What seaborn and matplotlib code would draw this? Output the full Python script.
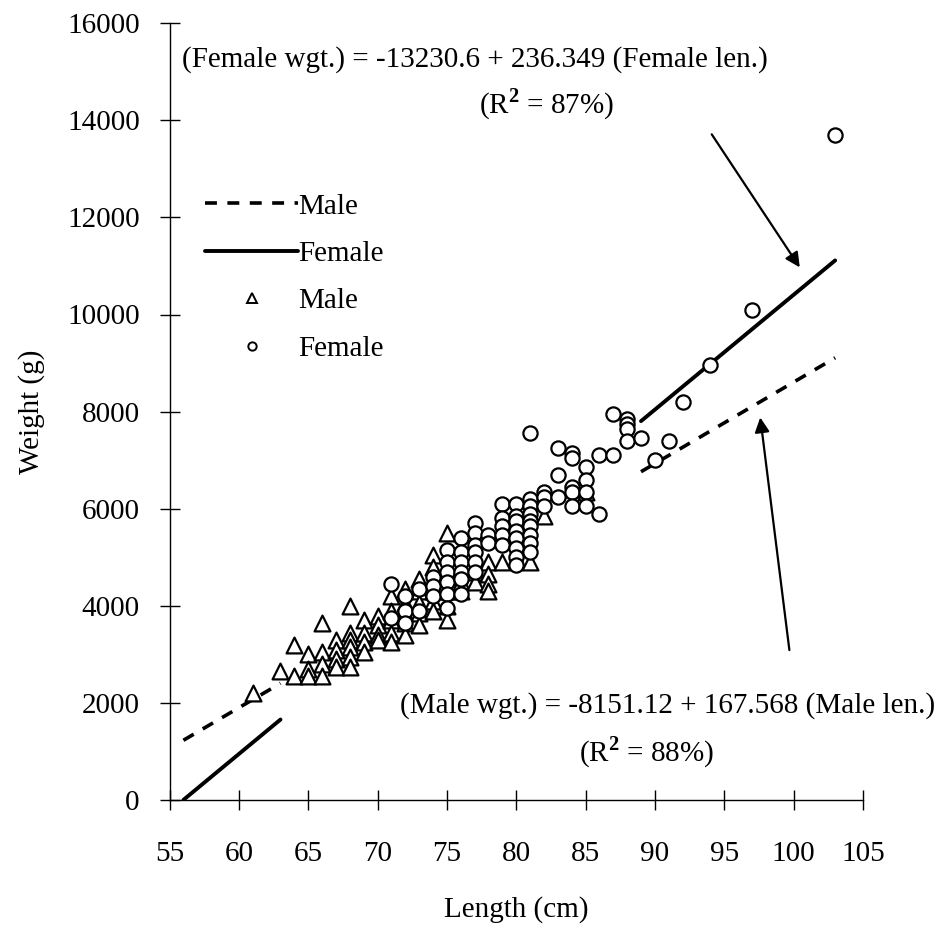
import numpy as np
import pandas as pd
import matplotlib
matplotlib.use("Agg")
import matplotlib.pyplot as plt
import seaborn as sns
from matplotlib.lines import Line2D

# ---------------- data ----------------
male_len = [61, 63, 64, 64, 65, 65, 65, 66, 66, 66, 66, 67, 67, 67, 67,
            68, 68, 68, 68, 68, 68, 69, 69, 69, 69, 70, 70, 70, 70,
            71, 71, 71, 71, 71, 72, 72, 72, 72, 72, 73, 73, 73, 73, 73,
            74, 74, 74, 74, 74, 74, 75, 75, 75, 75, 76, 76, 77, 77,
            78, 78, 78, 78, 79, 81, 82, 84, 85]
male_wgt = [2200, 2650, 3200, 2550, 3000, 2700, 2550, 3650, 3050, 2800, 2550,
            3300, 3100, 2900, 2750, 4000, 3450, 3300, 3150, 2950, 2750,
            3700, 3450, 3250, 3050, 3800, 3600, 3400, 3300,
            4200, 3900, 3700, 3450, 3250, 4350, 4050, 3850, 3650, 3400,
            4550, 4300, 4050, 3850, 3600, 5050, 4800, 4550, 4300, 4100, 3900,
            5500, 4300, 4000, 3700, 4500, 4300, 4700, 4500,
            4900, 4650, 4450, 4300, 4900, 4900, 5850, 6400, 6350]

female_len = [71, 71, 72, 72, 72, 73, 73, 74, 74, 74,
              75, 75, 75, 75, 75, 75, 76, 76, 76, 76, 76, 76,
              77, 77, 77, 77, 77, 77, 78, 78, 79, 79, 79, 79, 79,
              80, 80, 80, 80, 80, 80, 80, 80,
              81, 81, 81, 81, 81, 81, 81, 81, 81,
              82, 82, 82, 83, 83, 83, 84, 84, 84, 84, 84,
              85, 85, 85, 85, 86, 86, 87, 87, 88, 88, 88, 88,
              89, 90, 91, 92, 94, 97, 103]
female_wgt = [4450, 3750, 4200, 3900, 3650, 4350, 3900, 4600, 4400, 4200,
              5150, 4900, 4700, 4500, 4250, 3950, 5400, 5100, 4900, 4700, 4550, 4250,
              5700, 5500, 5250, 5100, 4900, 4700, 5450, 5300,
              6100, 5800, 5650, 5450, 5250,
              6100, 5850, 5750, 5550, 5400, 5200, 5000, 4850,
              7550, 6200, 6050, 5900, 5750, 5650, 5450, 5300, 5100,
              6350, 6250, 6050, 7250, 6700, 6250, 7150, 7050, 6450, 6350, 6050,
              6850, 6600, 6350, 6050, 7100, 5900, 7950, 7100, 7850, 7750, 7650, 7400,
              7450, 7000, 7400, 8200, 8950, 10100, 13700]

# regression fits (from the chart annotations)
male_fit = (-8151.12, 167.568)
female_fit = (-13230.6, 236.349)
fit_segments = [(56, 63), (89, 103)]   # x ranges where the fitted lines are drawn

x_ticks = [55, 60, 65, 70, 75, 80, 85, 90, 95, 100, 105]
y_ticks = [0, 2000, 4000, 6000, 8000, 10000, 12000, 14000, 16000]

# ---------------- figure ----------------
sns.set_theme(style="white", rc={"text.color": "black", "axes.labelcolor": "black",
                                 "xtick.color": "black", "ytick.color": "black",
                                 "xtick.bottom": True, "ytick.left": True})
plt.rcParams['font.family'] = ['Liberation Serif', 'DejaVu Serif']
plt.rcParams['mathtext.fontset'] = 'custom'
plt.rcParams['mathtext.rm'] = 'Liberation Serif'
plt.rcParams['mathtext.bf'] = 'Liberation Serif:bold'

fig = plt.figure(figsize=(9.42, 9.25), dpi=100)
ax = fig.add_axes([0.180, 0.135, 0.736, 0.840])

FS = 21

def fit_df(fit):
    rows = []
    for i, (a, b) in enumerate(fit_segments):
        xs = np.linspace(a, b, 30)
        for x in xs:
            rows.append({"x": x, "y": fit[0] + fit[1] * x, "seg": i})
    return pd.DataFrame(rows)

sns.lineplot(data=fit_df(male_fit), x="x", y="y", units="seg", estimator=None,
             color="black", lw=2.6, linestyle=(0, (3.3, 2.9)), ax=ax)
sns.lineplot(data=fit_df(female_fit), x="x", y="y", units="seg", estimator=None,
             color="black", lw=2.8, ax=ax)

mdf = pd.DataFrame({"len": male_len, "wgt": male_wgt})
fdf = pd.DataFrame({"len": female_len, "wgt": female_wgt})
sns.scatterplot(data=mdf, x="len", y="wgt", marker="^", s=130,
                facecolor="white", edgecolor="black", linewidth=1.6, ax=ax, zorder=3)
sns.scatterplot(data=fdf, x="len", y="wgt", marker="o", s=105,
                facecolor="white", edgecolor="black", linewidth=1.6, ax=ax, zorder=3)

ax.set_xlim(55, 105)
ax.set_ylim(0, 16000)
ax.set_xticks(x_ticks)
ax.set_yticks(y_ticks)
ax.set_xticklabels([str(t) for t in x_ticks], fontsize=FS)
ax.set_yticklabels([str(t) for t in y_ticks], fontsize=FS)
ax.tick_params(axis="both", which="major", direction="inout", length=15, width=1,
               color="black", bottom=True, left=True)
ax.tick_params(axis="x", pad=22)
ax.tick_params(axis="y", pad=14)
for side in ["top", "right"]:
    ax.spines[side].set_visible(False)
for side in ["left", "bottom"]:
    ax.spines[side].set_color("black")
    ax.spines[side].set_linewidth(1)

ax.set_xlabel("Length (cm)", fontsize=FS, labelpad=21)
ax.set_ylabel("Weight (g)", fontsize=FS, labelpad=16)

# legend
handles = [
    Line2D([], [], color="black", lw=2.6, linestyle=(0, (3.3, 2.9))),
    Line2D([], [], color="black", lw=2.8),
    Line2D([], [], color="black", marker="^", markerfacecolor="white", linestyle="none",
           markersize=7, markeredgewidth=1.4),
    Line2D([], [], color="black", marker="o", markerfacecolor="white", linestyle="none",
           markersize=6, markeredgewidth=1.4),
]
ax.legend(handles, ["Male", "Female", "Male", "Female"], loc="upper left",
          bbox_to_anchor=(0.03, 0.80), frameon=False, fontsize=FS,
          handlelength=3.2, handletextpad=0.0, labelspacing=0.72, borderpad=0)

# annotations
ax.text(77.0, 15250, "(Female wgt.) = -13230.6 + 236.349 (Female len.)",
        fontsize=FS, ha="center", va="center")
ax.text(82.2, 14330, r"(R$^{\mathbf{2}}$ = 87%)", fontsize=FS, ha="center", va="center")
ax.text(90.9, 1940, "(Male wgt.) = -8151.12 + 167.568 (Male len.)",
        fontsize=FS, ha="center", va="center")
ax.text(89.4, 990, r"(R$^{\mathbf{2}}$ = 88%)", fontsize=FS, ha="center", va="center")

ax.annotate("", xy=(100.45, 10970), xytext=(94.1, 13710),
            arrowprops=dict(arrowstyle="-|>", color="black", lw=1.6,
                            mutation_scale=22, shrinkA=0, shrinkB=0))
ax.annotate("", xy=(97.6, 7880), xytext=(99.7, 3090),
            arrowprops=dict(arrowstyle="-|>", color="black", lw=1.6,
                            mutation_scale=22, shrinkA=0, shrinkB=0))

fig.savefig("out.png", dpi=100)
